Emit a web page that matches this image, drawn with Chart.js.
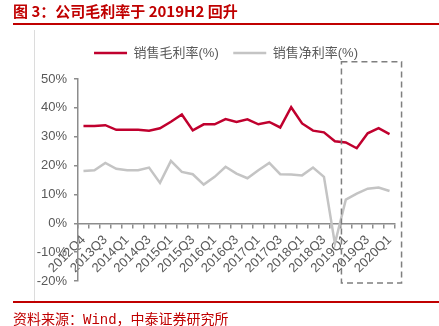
<!DOCTYPE html>
<html>
<head>
<meta charset="utf-8">
<script src="https://cdn.jsdelivr.net/npm/chart.js@4.4.1/dist/chart.umd.min.js"></script>
<style>
  html, body { margin: 0; padding: 0; background: #ffffff; }
  #wrap { position: relative; width: 439px; height: 326px; overflow: hidden; }
  #chart { position: absolute; left: 0; top: 0; }
  .title { position: absolute; left: 13px; top: 0px; line-height: 20px; white-space: nowrap;
           font: bold 15px 'Noto Sans CJK SC', sans-serif; color: #C00000; }
  .rule { position: absolute; left: 13px; right: 0; background: #C00000; }
  .vline { position: absolute; left: 34px; top: 30px; width: 1px; height: 271px; background: #dcdcdc; }
  .source { position: absolute; left: 13px; top: 308px; line-height: 17px; white-space: nowrap;
            font: 14px 'Noto Sans CJK SC', sans-serif; color: #C00000; }
  .source .en { font-family: 'Liberation Mono', monospace; }
</style>
</head>
<body>
<div id="wrap">
  <canvas id="chart" width="439" height="326"></canvas>
  <div class="vline"></div>
  <div class="title">图 3：公司毛利率于 2019H2 回升</div>
  <div class="rule" style="top:23px;height:2px;"></div>
  <div class="rule" style="top:301px;height:2px;"></div>
  <div class="source">资料来源：<span class="en">Wind</span>，中泰证券研究所</div>
</div>
<script>
// Quarterly reporting periods (2013Q1 is not reported)
const quarters = [
  '2012Q4', '2013Q2', '2013Q3', '2013Q4',
  '2014Q1', '2014Q2', '2014Q3', '2014Q4',
  '2015Q1', '2015Q2', '2015Q3', '2015Q4',
  '2016Q1', '2016Q2', '2016Q3', '2016Q4',
  '2017Q1', '2017Q2', '2017Q3', '2017Q4',
  '2018Q1', '2018Q2', '2018Q3', '2018Q4',
  '2019Q1', '2019Q2', '2019Q3', '2019Q4',
  '2020Q1'
];

// Gross margin (%)
const grossMargin = [
  33.7, 33.7, 34.0, 32.4,
  32.4, 32.4, 32.1, 32.9,
  35.2, 37.7, 32.2, 34.3,
  34.3, 36.1, 35.1, 36.0,
  34.3, 35.1, 33.2, 40.2,
  34.6, 32.1, 31.5, 28.4,
  28.0, 26.0, 31.2, 33.0,
  30.9
];

// Net margin (%)
const netMargin = [
  18.1, 18.4, 20.9, 18.9,
  18.4, 18.4, 19.3, 14.0,
  21.6, 17.8, 17.0, 13.4,
  16.1, 19.6, 17.2, 15.6,
  18.4, 20.9, 17.0, 16.9,
  16.6, 19.3, 16.1, -7.0,
  8.2, 10.3, 12.0, 12.4,
  11.2
];

const seriesNames = ['销售毛利率(%)', '销售净利率(%)'];
const yTicks = { min: -20, max: 50, step: 10 };

const FONT = "'Liberation Sans', 'Noto Sans CJK SC', sans-serif";
const TEXT = '#595959';
const AXIS = '#8c8c8c';

// Dashed frame around the recovery period (category index / value units)
const highlightBox = {
  id: 'highlightBox',
  afterDatasetsDraw(chart) {
    const { ctx, scales: { x, y } } = chart;
    const l = x.getPixelForValue(23.6);
    const r = x.getPixelForValue(29.1);
    const t = y.getPixelForValue(56);
    const b = y.getPixelForValue(-20.7);
    ctx.save();
    ctx.setLineDash([6, 4]);
    ctx.lineWidth = 1.5;
    ctx.strokeStyle = '#7f7f7f';
    ctx.strokeRect(l, t, r - l, b - t);
    ctx.restore();
  }
};

// Nudge the legend row right and up, leaving a gap above the plot
const legendOffset = {
  id: 'legendOffset',
  afterLayout(chart) {
    const lg = chart.legend;
    if (!lg) return;
    const dx = 28.5, dy = -9.5;
    lg.left += dx; lg.right += dx;
    lg.top += dy; lg.bottom += dy;
  }
};

new Chart(document.getElementById('chart'), {
  type: 'line',
  data: {
    labels: quarters,
    datasets: [
      {
        label: seriesNames[0],
        data: grossMargin,
        borderColor: '#C0002E',
        backgroundColor: '#C0002E',
        borderWidth: 2.5,
        pointRadius: 0,
        tension: 0
      },
      {
        label: seriesNames[1],
        data: netMargin,
        borderColor: '#C4C4C4',
        backgroundColor: '#C4C4C4',
        borderWidth: 2.5,
        pointRadius: 0,
        tension: 0
      }
    ]
  },
  options: {
    responsive: false,
    animation: false,
    layout: { padding: { top: 41.5, left: 0, right: 44, bottom: 45 } },
    plugins: {
      tooltip: { enabled: false },
      legend: {
        position: 'top',
        align: 'center',
        labels: {
          usePointStyle: true,
          pointStyle: 'line',
          pointStyleWidth: 33,
          padding: 14.5,
          color: TEXT,
          font: { size: 13, family: FONT }
        }
      }
    },
    scales: {
      x: {
        type: 'category',
        offset: true,
        position: { y: 0 },
        grid: { display: true, drawOnChartArea: false, drawTicks: true, tickLength: 4, offset: true,
                color: AXIS, lineWidth: 1.5 },
        border: { display: true, color: AXIS, width: 1.5 },
        ticks: {
          autoSkip: false,
          minRotation: 45,
          maxRotation: 45,
          padding: 5,
          color: TEXT,
          font: { size: 13, family: FONT },
          callback: (v, i) => (i % 2 === 0 ? quarters[i] : '')
        }
      },
      y: {
        min: yTicks.min,
        max: yTicks.max,
        afterFit: (scale) => { scale.width = 78; },
        grid: { display: true, drawOnChartArea: false, drawTicks: true, tickLength: 4,
                color: AXIS, lineWidth: 1.5 },
        border: { display: true, color: AXIS, width: 1.5 },
        ticks: {
          stepSize: yTicks.step,
          padding: 7,
          color: TEXT,
          font: { size: 13, family: FONT },
          callback: (v) => v + '%'
        }
      }
    }
  },
  plugins: [highlightBox, legendOffset]
});
</script>
</body>
</html>
